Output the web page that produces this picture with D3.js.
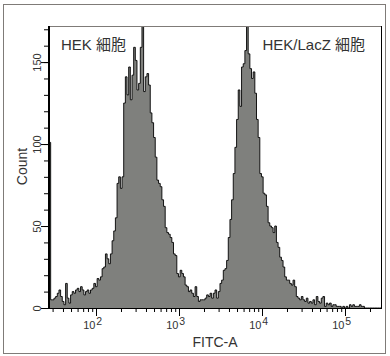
<!DOCTYPE html>
<html><head><meta charset="utf-8">
<script src="https://cdn.jsdelivr.net/npm/d3@7/dist/d3.min.js"></script>
<style>body{margin:0;background:#fff}text{font-family:"Liberation Sans",Arial,"Noto Sans CJK JP",sans-serif;fill:#333}</style>
</head><body>
<svg id="c" width="390" height="356"></svg>
<script>
// histogram channels: log10 start and log10 width of each bin
const binLogStart = 1.4337;
const binLogStep = 0.02;
const counts = [
 101,5,5,6,7,9,11,7,4,2,15,6,3,8,10,9,11,12,10,13,
 11,8,10,11,9,11,12,15,13,18,17,19,24,25,33,30,27,33,41,47,
 55,76,80,73,80,125,141,130,147,127,142,159,151,133,137,159,185,132,141,143,
 136,119,113,104,92,78,76,74,66,62,49,46,45,43,40,33,32,21,19,23,
 21,19,14,13,10,11,9,7,13,7,4,5,5,5,6,8,7,9,6,9,
 11,6,10,15,17,23,24,29,43,54,66,82,98,115,133,123,147,149,157,185,
 155,146,140,144,131,115,104,82,80,70,69,62,52,50,49,46,50,40,37,31,
 29,25,19,17,17,15,14,17,13,7,6,5,7,5,4,6,3,4,3,5,
 2,7,4,3,6,7,1,3,2,3,1,2,2,1,1,1,0,1,0,1,
 0,2,1,2,1,1,1,2,1,1,0,0,0,0,0,0,0,0,0,0
];
const xDomainLog = [1.4337, 5.4337];
const yMax = 172;
const yMajorTicks = [0, 50, 100, 150];
const yMinorTicks = [0,10,20,30,40,50,60,70,80,90,100,110,120,130,140,150,160,170];
const xDecades = [2, 3, 4, 5];
const titles = ["HEK 細胞", "HEK/LacZ 細胞"];
const xLabel = "FITC-A";
const yLabel = "Count";

const svg = d3.select("#c");
const L = 49, R = 381, T = 26, B = 308;
const x = d3.scaleLog().domain(xDomainLog.map(v => Math.pow(10, v))).range([L, R]);
const y = d3.scaleLinear().domain([0, yMax]).range([B, T]);

// outer frame
svg.append("rect").attr("x", 3.5).attr("y", 4.5).attr("width", 382).attr("height", 349)
  .attr("fill", "none").attr("stroke", "#7f7b78").attr("stroke-width", 1);

// clip
svg.append("clipPath").attr("id", "clip").append("rect")
  .attr("x", L).attr("y", T).attr("width", R - L).attr("height", B - T);

const pts = counts.map((c, i) => ({ v: Math.pow(10, binLogStart + i * binLogStep), c }));
pts.push({ v: Math.pow(10, binLogStart + counts.length * binLogStep), c: counts[counts.length - 1] });

const g = svg.append("g").attr("clip-path", "url(#clip)");
g.append("path").datum(pts)
  .attr("d", d3.area().curve(d3.curveStepAfter).x(d => x(d.v)).y0(y(0)).y1(d => y(d.c)))
  .attr("fill", "#7f807d");
g.append("path").datum(pts)
  .attr("d", d3.line().curve(d3.curveStepAfter).x(d => x(d.v)).y(d => y(d.c)))
  .attr("fill", "none").attr("stroke", "#000").attr("stroke-width", 0.9);

// plot box: top gray, right black
svg.append("line").attr("x1", L).attr("x2", R).attr("y1", T + 0.5).attr("y2", T + 0.5).attr("stroke", "#7f7b78");
svg.append("line").attr("x1", R + 0.5).attr("x2", R + 0.5).attr("y1", T).attr("y2", B).attr("stroke", "#000");

// y axis
const yMinor = svg.append("g").attr("transform", `translate(${L},0)`)
  .call(d3.axisLeft(y).tickValues(yMinorTicks).tickSize(5).tickFormat(""));
const yMajor = svg.append("g").attr("transform", `translate(${L},0)`)
  .call(d3.axisLeft(y).tickValues(yMajorTicks).tickSize(8).tickPadding(0));
[yMinor, yMajor].forEach(a => { a.select(".domain").remove(); a.selectAll("line").attr("stroke", "#000"); });
yMajor.selectAll("text")
  .attr("transform", "rotate(-90)").attr("x", 0).attr("y", -8).attr("dy", 0)
  .attr("text-anchor", "middle").style("font-size", "11px").style("fill", "#333")
  .style("font-family", '"Liberation Sans",Arial,sans-serif');
svg.append("line").attr("x1", L).attr("x2", L).attr("y1", T).attr("y2", B + 1)
  .attr("stroke", "#000").attr("stroke-width", 2);

// x axis
const minorX = [];
const lo = x.domain()[0], hi = x.domain()[1];
for (let e = 1; e <= 5; e++) for (let k = 2; k <= 9; k++) { const v = k * Math.pow(10, e); if (v >= lo && v <= hi) minorX.push(v); }
const xMinor = svg.append("g").attr("transform", `translate(0,${B})`)
  .call(d3.axisBottom(x).tickValues(minorX).tickSize(4).tickFormat(""));
const xMajor = svg.append("g").attr("transform", `translate(0,${B})`)
  .call(d3.axisBottom(x).tickValues(xDecades.map(d => Math.pow(10, d))).tickSize(8).tickFormat(""));
[xMinor, xMajor].forEach(a => { a.select(".domain").remove(); a.selectAll("line").attr("stroke", "#000"); });
svg.append("line").attr("x1", L).attr("x2", R + 1).attr("y1", B + 0.5).attr("y2", B + 0.5).attr("stroke", "#000");

xDecades.forEach(d => {
  const px = x(Math.pow(10, d));
  svg.append("text").attr("x", px - 0.5).attr("y", 329).attr("text-anchor", "end")
    .style("font-size", "11px").text("10");
  svg.append("text").attr("x", px + 0.3).attr("y", 324.5).attr("text-anchor", "start")
    .style("font-size", "10.5px").text(d);
});

// axis titles
svg.append("text").attr("x", 215).attr("y", 347).attr("text-anchor", "middle")
  .style("font-size", "14px").text(xLabel);
svg.append("text").attr("transform", "translate(27,166.5) rotate(-90)").attr("text-anchor", "middle")
  .style("font-size", "14px").text(yLabel);

// annotations
svg.append("text").attr("x", 61).attr("y", 50).style("font-size", "15px").text(titles[0]);
svg.append("text").attr("x", 365).attr("y", 50).attr("text-anchor", "end").style("font-size", "15px").text(titles[1]);
</script>
</body></html>
